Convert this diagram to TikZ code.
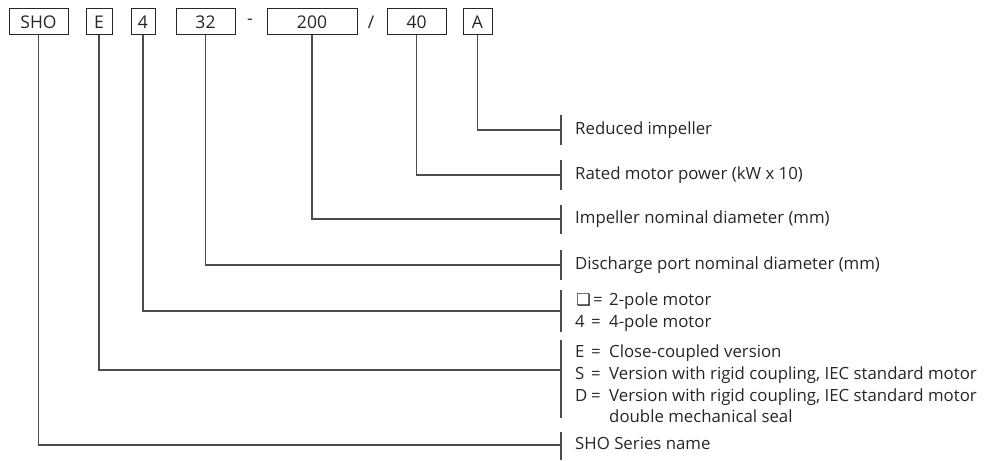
\documentclass[tikz,border=0pt]{standalone}
\usepackage{fontspec}
\setmainfont{Open Sans}
\newfontfamily\symfont{DejaVu Sans}
\newcommand\codeentry[2]{\makebox[16pt][l]{#1}\makebox[18pt][l]{=}#2}
\begin{document}
\begin{tikzpicture}[x=1pt,y=-1pt,
  code/.style={draw=black!85, line width=1pt, minimum height=26pt, inner sep=0pt, font=\fontsize{17.5}{20}\selectfont, text=black!85},
  sep/.style={inner sep=0pt, font=\fontsize{17.5}{20}\selectfont, text=black!85},
  lead/.style={draw=black!70, line width=1.2pt},
  lbl/.style={anchor=west, inner sep=0pt, text height=12.5pt, text depth=3.5pt, font=\fontsize{16.8}{19}\selectfont, text=black!85}]
\useasboundingbox (0,0) rectangle (1000,460);
% code boxes
\node[code, minimum width=59pt] (sho) at (38.5,22) {SHO};
\node[code, minimum width=26pt] (bE) at (99,22) {E};
\node[code, minimum width=24pt] (b4) at (143,22) {4};
\node[code, minimum width=59pt] (b32) at (205.5,22) {32};
\node[sep] (dash) at (250,22) {-};
\node[code, minimum width=90pt] (b200) at (312,22) {200};
\node[sep] (slash) at (371,22) {/};
\node[code, minimum width=59pt] (b40) at (416.5,22) {40};
\node[code, minimum width=29pt] (bA) at (477.5,22) {A};
% labels
\node[lbl] (lA) at (575,130) {Reduced impeller};
\node[lbl] (l40) at (575,175) {Rated motor power (kW x 10)};
\node[lbl] (l200) at (575,219) {Impeller nominal diameter (mm)};
\node[lbl] (l32) at (575,265) {Discharge port nominal diameter (mm)};
\node[lbl] (l4a) at (576,301) {\makebox[17pt][l]{\symfont\fontsize{16.5}{18}\selectfont\char"274F}\makebox[16pt][l]{=}2-pole motor};
\node[lbl] (l4b) at (575,323) {\codeentry{4}{4-pole motor}};
\node[lbl] (lEa) at (575,353) {\codeentry{E}{Close-coupled version}};
\node[lbl] (lEb) at (575,375) {\codeentry{S}{Version with rigid coupling, IEC standard motor}};
\node[lbl] (lEc) at (575,397) {\codeentry{D}{Version with rigid coupling, IEC standard motor}};
\node[lbl] (lEd) at (609,418) {double mechanical seal};
\node[lbl] (lS) at (575,445) {SHO Series name};
% tick coordinates
\coordinate (tA) at (561,130);   \coordinate (tA1) at (561,115);  \coordinate (tA2) at (561,145);
\coordinate (t40) at (561,175);  \coordinate (t401) at (561,160); \coordinate (t402) at (561,190);
\coordinate (t200) at (561,219); \coordinate (t2001) at (561,205);\coordinate (t2002) at (561,234);
\coordinate (t32) at (561,265);  \coordinate (t321) at (561,250); \coordinate (t322) at (561,280);
\coordinate (t4) at (561,311);   \coordinate (t41) at (561,290);  \coordinate (t42) at (561,332);
\coordinate (tE) at (561,370);   \coordinate (tE1) at (561,340);  \coordinate (tE2) at (561,418);
\coordinate (tS) at (561,445);   \coordinate (tS1) at (561,432);  \coordinate (tS2) at (561,460);
% ticks
\foreach \t in {tA,t40,t200,t32,t4,tE,tS}{\draw[lead] (\t1) -- (\t2);}
% leaders
\draw[lead] (bA.south) |- (tA);
\draw[lead] (b40.south) |- (t40);
\draw[lead] (b200.south) |- (t200);
\draw[lead] (b32.south) |- (t32);
\draw[lead] (b4.south) |- (t4);
\draw[lead] (bE.south) |- (tE);
\draw[lead] (sho.south) |- (tS);
\end{tikzpicture}
\end{document}
